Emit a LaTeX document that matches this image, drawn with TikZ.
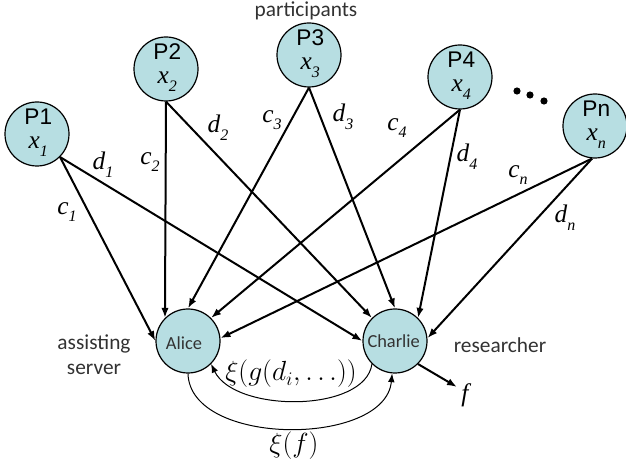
\documentclass[tikz,border=0pt]{standalone}
\usepackage{fontspec}
\usetikzlibrary{arrows.meta}
\newfontfamily\calfont{Carlito}
\newfontfamily\arialfont{Liberation Sans}
\newfontfamily\timesfont{Liberation Serif}
\definecolor{nodefill}{RGB}{183,222,226}
\definecolor{txtgray}{RGB}{50,50,50}
\newcommand{\vv}[2]{{\timesfont\itshape\fontsize{19}{19}\selectfont #1\raisebox{-0.3em}{\fontsize{12}{12}\selectfont #2}}}
\newcommand{\pl}[1]{{\arialfont\fontsize{17}{17}\selectfont #1}}
\begin{document}
\begin{tikzpicture}[x=0.75pt,y=-0.75pt,
  party/.style={circle,draw,line width=0.9pt,fill=nodefill,minimum size=48pt,inner sep=0pt},
  ptext/.style={inner sep=0pt,align=center,font=\fontsize{17}{18}\selectfont},
  conn/.style={line width=1.5pt,-{Latex[length=7.5pt,width=5.5pt]}},
  thinconn/.style={line width=0.75pt,-{Latex[length=6.5pt,width=5pt]}},
  cal/.style={font=\calfont\fontsize{16}{19}\selectfont,text=txtgray,align=center,inner sep=0pt},
  lbl/.style={inner sep=0pt}]
\useasboundingbox (0,0) rectangle (626,474);
% participants
\node[party] (P1) at (37,134) {};
\node[party] (P2) at (166,69) {};
\node[party] (P3) at (309,55) {};
\node[party] (P4) at (460,77) {};
\node[party] (Pn) at (595,126) {};
\foreach \n/\s in {P1/1,P2/2,P3/3,P4/4,Pn/n}{
  \node[ptext] (\n t) at ([yshift=1pt,xshift=1pt]\n.center) {\pl{\n}\\\vv{x}{\s}};
}
% servers
\node[party] (Alice) at (188,341) {};
\node[party] (Charlie) at (395,341) {};
\node[lbl] (Alicet) at ([xshift=-3pt,yshift=-2pt]Alice.center) {\calfont\fontsize{13.8}{14}\selectfont\color{txtgray}Alice};
\node[lbl] (Charliet) at ([xshift=-1pt]Charlie.center) {\calfont\fontsize{13.8}{14}\selectfont\color{txtgray}Charlie};
% dots
\fill (517,91) circle (3.6);
\fill (530,95) circle (3.6);
\fill (544,101) circle (3.6);
% texts
\node[cal] (part) at (306,11) {participants};
\node[cal] (assist) at (94,355) {assisting\\server};
\node[cal] (res) at (500,345) {researcher};
% edges
\draw[conn] (P1.-45) -- (Alice.180);
\draw[conn] (P1.-45) -- (Charlie.180);
\draw[conn] (P2.south) -- (Alice.135);
\draw[conn] (P2.south) -- (Charlie.135);
\draw[conn] (P3.south) -- (Alice.90);
\draw[conn] (P3.south) -- (Charlie.90);
\draw[conn] (P4.south) -- (Alice.45);
\draw[conn] (P4.south) -- (Charlie.45);
\draw[conn] (Pn.-95) -- (Alice.5);
\draw[conn] (Pn.-95) -- (Charlie.5);
% edge labels
\node[lbl] (lc1) at (67,212) {\vv{c}{1}};
\node[lbl] (ld1) at (103,165) {\vv{d}{1}};
\node[lbl] (lc2) at (150,162) {\vv{c}{2}};
\node[lbl] (ld2) at (218,128) {\vv{d}{2}};
\node[lbl] (lc3) at (272,120) {\vv{c}{3}};
\node[lbl] (ld3) at (343,117) {\vv{d}{3}};
\node[lbl] (lc4) at (397,128) {\vv{c}{4}};
\node[lbl] (ld4) at (467,157) {\vv{d}{4}};
\node[lbl] (lcn) at (518,175) {\vv{c}{n}};
\node[lbl] (ldn) at (565,218) {\vv{d}{n}};
% bottom curves
\draw[thinconn] (Charlie.-135) .. controls (365,413) and (235,413) .. (Alice.-45);
\draw[thinconn] (Alice.south) .. controls (190,447) and (385,447) .. (Charlie.-95);
\node[lbl] (xig) at (291,374) {\fontsize{21}{21}\selectfont$\xi(g(d_i,\ldots))$};
\node[lbl] (xif) at (294,446) {\fontsize{20}{20}\selectfont$\xi(f)$};
% output f
\coordinate (fend) at (457,387);
\draw[conn] (Charlie.-45) -- (fend);
\node[lbl] (fl) at (465,395) {{\timesfont\itshape\fontsize{19}{19}\selectfont f}};
\end{tikzpicture}
\end{document}
